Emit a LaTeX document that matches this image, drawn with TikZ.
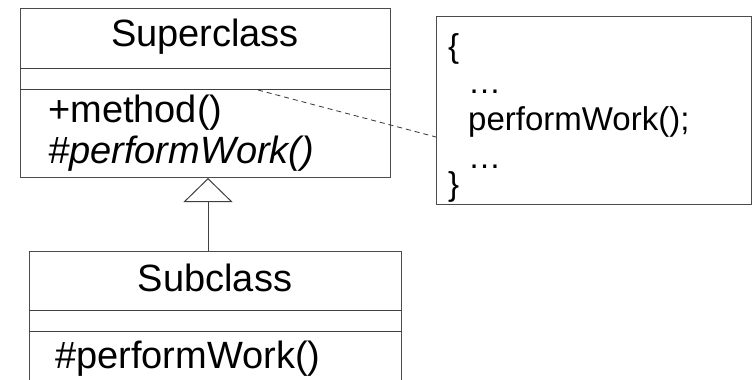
\documentclass[tikz,border=0pt]{standalone}
\usepackage{fontspec}
\setmainfont{Liberation Sans}
\usetikzlibrary{arrows.meta}
\usetikzlibrary{positioning}

\tikzset{
    umlbox/.style={draw=black!70, line width=1pt, rectangle, inner sep=0pt, anchor=north west},
    umlline/.style={draw=black!75, line width=1pt},
    bigtext/.style={inner sep=0pt, font=\fontsize{38}{40}\selectfont},
    notetext/.style={inner sep=0pt, anchor=base west, font=\fontsize{33}{36}\selectfont}
}

\begin{document}
\begin{tikzpicture}[x=1pt, y=-1pt]
    \useasboundingbox (0,0) rectangle (755,380);

    \node[umlbox, minimum width=370pt, minimum height=169pt] (super) at (20,8) {};
    \node[bigtext, anchor=base] (supername) at (205,46) {Superclass};
    \node[bigtext, anchor=base west] (supermethod) at (48,122) {+method()};
    \node[bigtext, anchor=base west] (superwork) at (48,163) {\itshape\#performWork()};
    \draw[umlline] (super.west |- 0,68) -- (super.east |- 0,68);
    \draw[umlline] (super.west |- 0,89) -- (super.east |- 0,89);

    \node[umlbox, minimum width=372pt, minimum height=145pt] (sub) at (29,251) {};
    \node[bigtext, anchor=base] (subname) at (215,291) {Subclass};
    \node[bigtext, anchor=base west] (subwork) at (55,368) {\#performWork()};
    \draw[umlline] (sub.west |- 0,310) -- (sub.east |- 0,310);
    \draw[umlline] (sub.west |- 0,331) -- (sub.east |- 0,331);

    \node[umlbox, minimum width=315pt, minimum height=188pt] (note) at (436,16) {};
    \node[notetext] (open) at (448,57) {\{};
    \node[notetext] (dots1) at (468,93) {…};
    \node[notetext] (call) at (468,130) {performWork();};
    \node[notetext] (dots2) at (468,168) {…};
    \node[notetext] (close) at (448,195) {\}};

    \coordinate (gen) at (208,251);
    \coordinate (link) at (258,90);
    \draw[umlline, -{Triangle[open, length=24pt, width=49pt]}] (gen) -- (gen |- super.south);
    \draw[draw=black!80, line width=0.8pt, dash pattern=on 5pt off 4pt] (link) -- (note.west |- 0,137);
\end{tikzpicture}
\end{document}
